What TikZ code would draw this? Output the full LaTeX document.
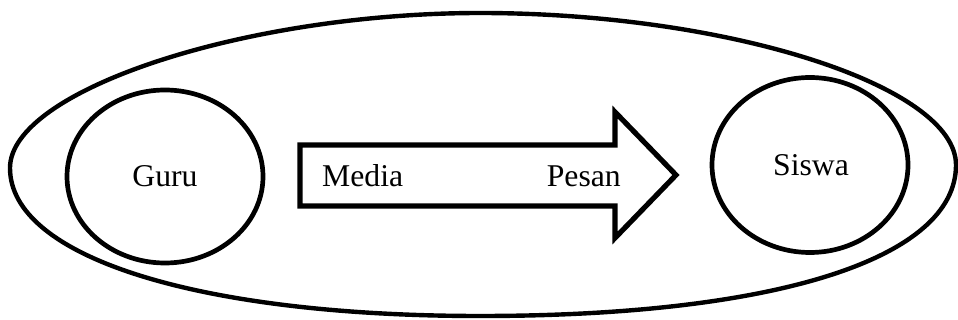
\documentclass[tikz,border=0pt]{standalone}
\usepackage{fontspec}
\setmainfont{Liberation Serif}
\usetikzlibrary{shapes.geometric}
\begin{document}
\begin{tikzpicture}[x=1pt,y=-1pt,
  oval/.style={draw=black,line width=4.7pt,ellipse,inner sep=0pt},
  outerline/.style={draw=black,line width=4.4pt},
  lbl/.style={inner sep=0pt,font=\fontsize{31.7}{38}\selectfont},
  bigarrow/.style={draw=black,line width=5.2pt,fill=white,line join=miter}]
\useasboundingbox (0,0) rectangle (958,320);
\coordinate (oL) at (10,168);
\coordinate (oT) at (480,13);
\coordinate (oR) at (956,165);
\coordinate (oB) at (480,316);
\draw[outerline] (oL) .. controls (10,90.5) and (245,13) .. (oT)
  .. controls (728,13) and (956,86) .. (oR)
  .. controls (956,258.6) and (775.7,316) .. (oB)
  .. controls (198,316) and (10,257) .. (oL) -- cycle;
\node[oval,minimum width=196pt,minimum height=173pt] (guru) at (165,176.5) {};
\node[lbl] at (guru.center) {Guru};
\node[oval,minimum width=196pt,minimum height=175pt] (siswa) at (810,165) {};
\node[lbl] at (811,165.5) {Siswa};
\coordinate (a1) at (300,145);
\coordinate (a2) at (615,145);
\coordinate (a3) at (615,112);
\coordinate (tip) at (676,175);
\coordinate (a5) at (615,238);
\coordinate (a6) at (615,206);
\coordinate (a7) at (300,206);
\draw[bigarrow] (a1) -- (a2) -- (a3) -- (tip) -- (a5) -- (a6) -- (a7) -- cycle;
\node[lbl,anchor=base west] (media) at (322,187) {Media};
\node[lbl,anchor=base east] (pesan) at (621,187) {Pesan};
\end{tikzpicture}
\end{document}
